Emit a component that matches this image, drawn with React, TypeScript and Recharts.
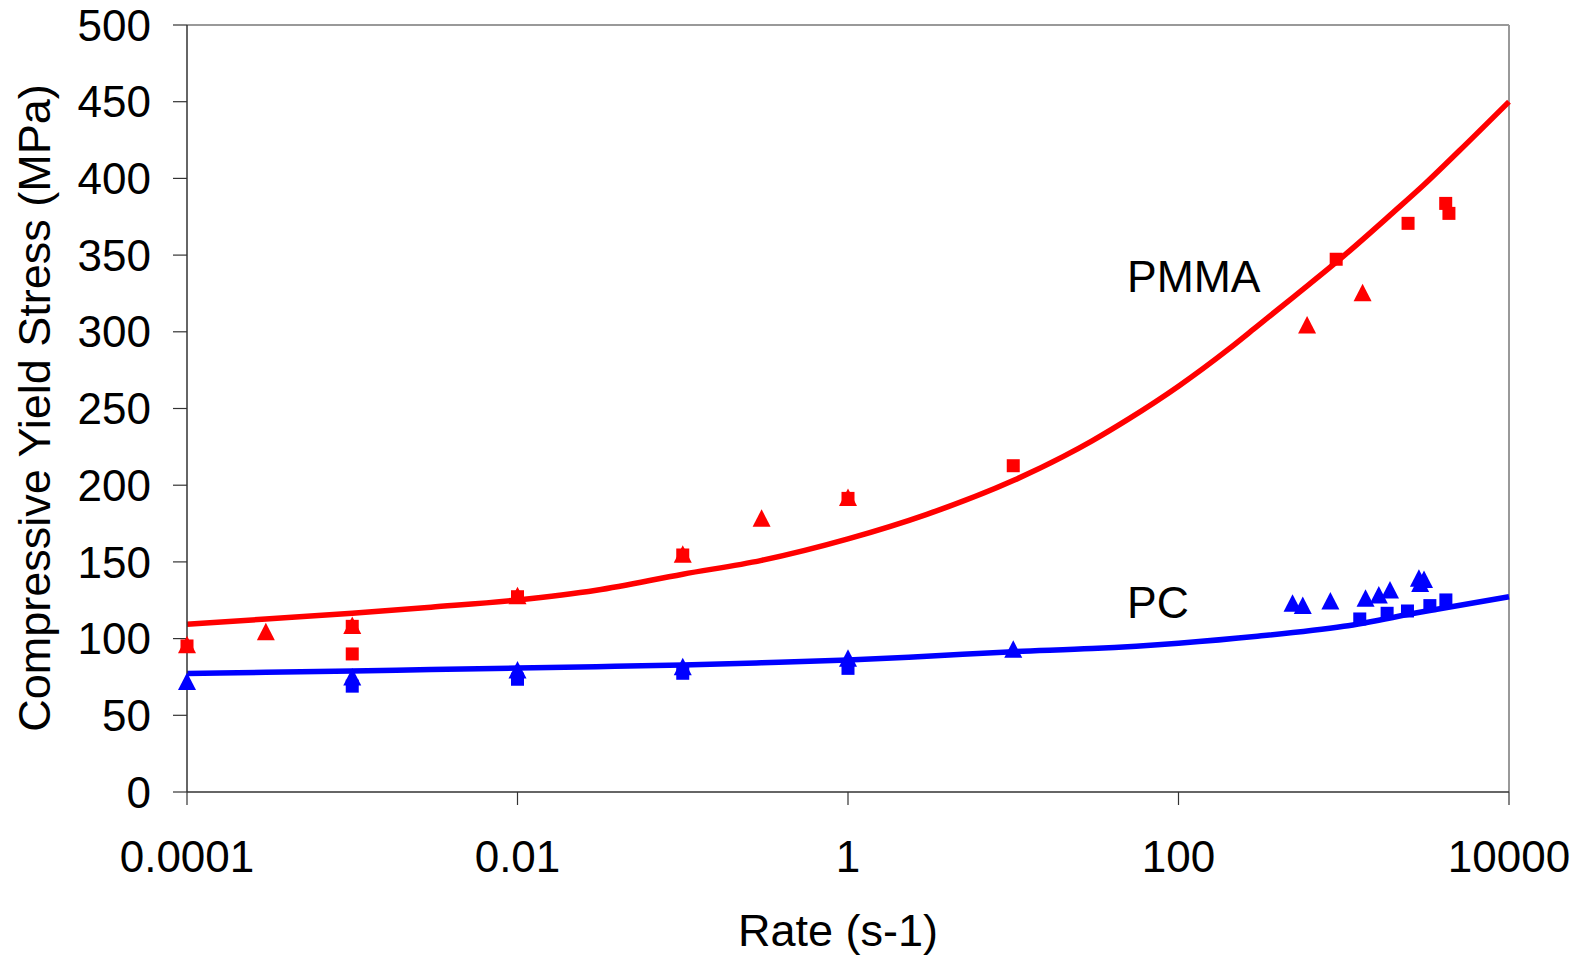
import {
  ComposedChart,
  Customized,
  Line,
  ReferenceLine,
  Scatter,
  XAxis,
  YAxis,
} from "recharts";

const FONT = "'Liberation Sans', Arial, sans-serif";
const RED = "#ff0000";
const BLUE = "#0000ff";

const xTicks = [0.0001, 0.01, 1, 100, 10000];
const yTicks = [0, 50, 100, 150, 200, 250, 300, 350, 400, 450, 500];

// fit curves
const pmmaFitRate = [
  0.0001, 0.0003, 0.001, 0.003, 0.01, 0.03, 0.1, 0.3, 1, 3, 10, 20, 30, 50, 100,
  200, 300, 500, 1000, 2000, 3000, 5000, 10000,
];
const pmmaFitStress = [
  109.3, 112.8, 116.5, 120.5, 125.2, 131.5, 142, 151, 165, 181, 203, 218.6, 228.9,
  243.2, 264.5, 288.5, 303.7, 323, 349.5, 378, 395, 418, 450,
];
const pcFitRate = [
  0.0001, 0.0003, 0.001, 0.003, 0.01, 0.03, 0.1, 0.3, 1, 3, 10, 30, 100, 300,
  1000, 3000, 10000,
];
const pcFitStress = [
  77.2, 78, 78.8, 79.8, 80.8, 81.7, 82.8, 84.2, 86, 88.5, 91.5, 93.5, 97, 101.5,
  108, 117.5, 127.3,
];

const pmmaSquareRate = [0.0001, 0.001, 0.001, 0.01, 0.1, 1, 10, 900, 2450, 4140, 4330];
const pmmaSquareStress = [95.2, 108, 90, 127.3, 154.5, 191.4, 212.7, 347.3, 370.7, 383.7, 377.2];

const pmmaTriangleRate = [0.0001, 0.0003, 0.001, 0.01, 0.1, 0.3, 1, 600, 1300];
const pmmaTriangleStress = [96, 104.5, 108.5, 128, 155, 178.4, 192, 304.4, 325.5];

const pcSquareRate = [0.001, 0.01, 0.1, 1, 1250, 1830, 2430, 3320, 4150];
const pcSquareStress = [69, 73.5, 77.4, 80.6, 112.8, 116.5, 118, 121.5, 125.2];

const pcTriangleRate = [
  0.0001, 0.001, 0.01, 0.1, 1, 10, 490, 565, 830, 1355, 1630, 1905, 2850, 3060, 2900,
];
const pcTriangleStress = [
  72, 75, 79.5, 81.7, 87.2, 93, 123, 121.5, 124.5, 126.3, 128.4, 131.7, 139.3, 138.6, 136,
];

const zip = (xs: number[], ys: number[]) => xs.map((x, i) => ({ x, y: ys[i] }));

const pmmaFit = zip(pmmaFitRate, pmmaFitStress);
const pcFit = zip(pcFitRate, pcFitStress);
const pmmaSquares = zip(pmmaSquareRate, pmmaSquareStress);
const pmmaTriangles = zip(pmmaTriangleRate, pmmaTriangleStress);
const pcSquares = zip(pcSquareRate, pcSquareStress);
const pcTriangles = zip(pcTriangleRate, pcTriangleStress);

function Square(props: any) {
  const { cx, cy, fill } = props;
  return <rect x={cx - 6.5} y={cy - 6.5} width={13} height={13} fill={fill} />;
}

function Triangle(props: any) {
  const { cx, cy, fill } = props;
  return (
    <polygon
      points={`${cx},${cy - 9} ${cx + 9},${cy + 8.5} ${cx - 9},${cy + 8.5}`}
      fill={fill}
    />
  );
}

function Titles() {
  const style = { fontFamily: FONT, fontSize: 45, fill: "#000" };
  return (
    <g>
      <text x={838} y={946} textAnchor="middle" {...style}>
        Rate (s-1)
      </text>
      <text
        x={0}
        y={0}
        textAnchor="middle"
        transform="translate(50 408) rotate(-90)"
        {...style}
      >
        Compressive Yield Stress (MPa)
      </text>
      <text x={1127} y={292} {...style} fontSize={44.5}>
        PMMA
      </text>
      <text x={1127} y={618} {...style} fontSize={44.5}>
        PC
      </text>
    </g>
  );
}

const fmt = (v: number) => String(v);

export default function App() {
  const tick = { fontSize: 44, fill: "#000", fontFamily: FONT };
  return (
    <div style={{ position: "absolute", left: 0, top: 0, background: "#fff" }}>
      <ComposedChart
        width={1585}
        height={956}
        margin={{ top: 25, right: 76, bottom: 0, left: 0 }}
      >
        <XAxis
          dataKey="x"
          type="number"
          scale="log"
          domain={[0.0001, 10000]}
          ticks={xTicks}
          tickFormatter={fmt}
          height={164}
          tick={tick}
          tickSize={13}
          tickMargin={36}
          axisLine={{ stroke: "#333", strokeWidth: 1.5 }}
          tickLine={{ stroke: "#333", strokeWidth: 1.2 }}
          interval={0}
        />
        <YAxis
          type="number"
          domain={[0, 500]}
          ticks={yTicks}
          width={187}
          tick={tick}
          tickSize={14}
          tickMargin={22}
          axisLine={{ stroke: "#333", strokeWidth: 1.5 }}
          tickLine={{ stroke: "#333", strokeWidth: 1.2 }}
          interval={0}
        />
        <ReferenceLine y={500} stroke="#999" strokeWidth={2} />
        <ReferenceLine x={10000} stroke="#999" strokeWidth={2} />
        <Line
          data={pmmaFit}
          dataKey="y"
          type="monotone"
          stroke={RED}
          strokeWidth={5.5}
          dot={false}
          isAnimationActive={false}
        />
        <Line
          data={pcFit}
          dataKey="y"
          type="monotone"
          stroke={BLUE}
          strokeWidth={5.5}
          dot={false}
          isAnimationActive={false}
        />
        <Scatter data={pmmaTriangles} dataKey="y" fill={RED} shape={Triangle} isAnimationActive={false} />
        <Scatter data={pmmaSquares} dataKey="y" fill={RED} shape={Square} isAnimationActive={false} />
        <Scatter data={pcTriangles} dataKey="y" fill={BLUE} shape={Triangle} isAnimationActive={false} />
        <Scatter data={pcSquares} dataKey="y" fill={BLUE} shape={Square} isAnimationActive={false} />
        <Customized component={Titles} />
      </ComposedChart>
    </div>
  );
}
